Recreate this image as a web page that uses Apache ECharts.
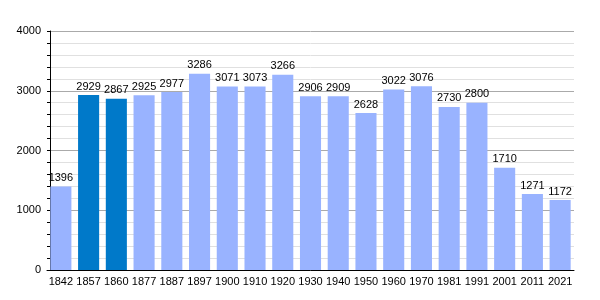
<!DOCTYPE html>
<html><head><meta charset="utf-8">
<script src="https://cdn.jsdelivr.net/npm/echarts@6/dist/echarts.min.js"></script>
<style>html,body{margin:0;padding:0;background:#fff}#c{width:600px;height:300px}</style>
</head><body><div id="c"></div>
<script>
const categories = ['1842','1857','1860','1877','1887','1897','1900','1910','1920','1930','1940','1950','1960','1970','1981','1991','2001','2011','2021'];
const population = [1396,2929,2867,2925,2977,3286,3071,3073,3266,2906,2909,2628,3022,3076,2730,2800,1710,1271,1172];
const highlighted = ['1857','1860'];
const yTicks = [0,1000,2000,3000,4000];

const chart = echarts.init(document.getElementById('c'), null, {renderer:'canvas'});
const font = 'Liberation Sans, Arial, sans-serif';
chart.setOption({
  animation:false,
  grid:{left:47, right:26, top:31, bottom:30, containLabel:false},
  xAxis:{
    type:'category', data:categories,
    axisLine:{lineStyle:{color:'#000', width:1}},
    axisTick:{show:false},
    axisLabel:{color:'#000', fontFamily:font, fontSize:11, margin:6, interval:0}
  },
  yAxis:{
    type:'value', min:yTicks[0], max:yTicks[yTicks.length-1], interval:1000, offset:-3,
    axisLine:{show:true, lineStyle:{color:'#000'}},
    axisTick:{show:true, length:3, lineStyle:{color:'#000'}},
    minorTick:{show:true, splitNumber:5, length:3, lineStyle:{color:'#000'}},
    splitLine:{show:true, lineStyle:{color:'#aaa'}},
    minorSplitLine:{show:true, lineStyle:{color:'#e0e0e0'}},
    axisLabel:{color:'#000', fontFamily:font, fontSize:11, margin:9, formatter:v=>String(v)}
  },
  series:[{
    type:'bar', barCategoryGap:'24%',
    data:population.map((v,i)=>({value:v, itemStyle:{color: highlighted.includes(categories[i]) ? '#0079c9' : '#99b3ff'}})),
    label:{show:true, position:'top', distance:3, color:'#000', fontFamily:font, fontSize:11}
  }]
});
</script></body></html>
